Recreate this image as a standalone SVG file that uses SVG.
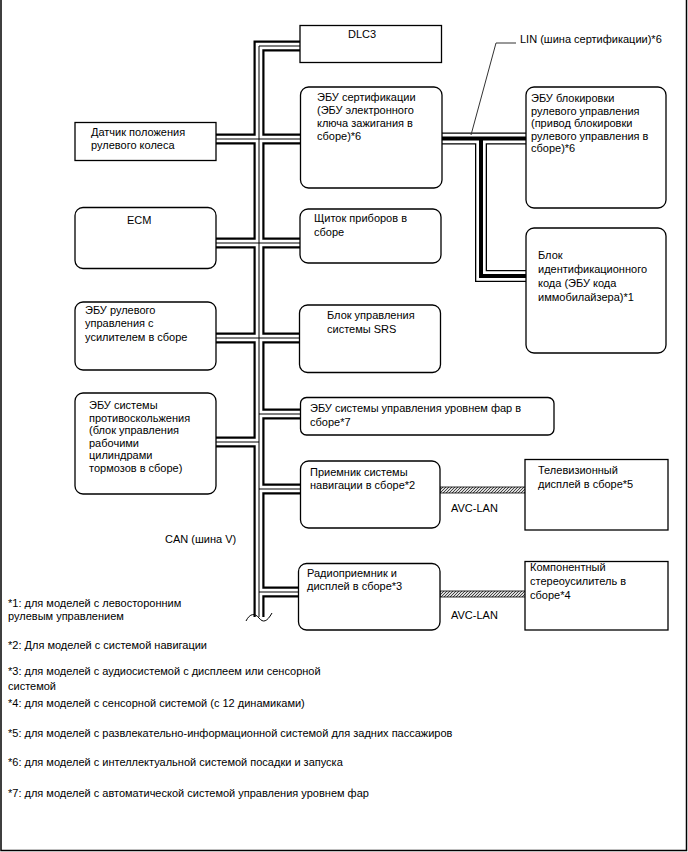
<svg xmlns="http://www.w3.org/2000/svg" width="688" height="852" viewBox="0 0 688 852">
<defs>
<style>
text{font-family:"Liberation Sans",Arial,sans-serif;font-size:11px;fill:#000}
.box{fill:#fff;stroke:#000;stroke-width:1.3}
.bo{fill:none;stroke:#000;stroke-width:11;stroke-linejoin:miter}
.bw{fill:none;stroke:#fff;stroke-width:6.6;stroke-linejoin:miter}
.bc{fill:none;stroke:#000;stroke-width:1;stroke-linejoin:miter}
.lo{fill:none;stroke:#000;stroke-width:12;stroke-linejoin:miter}
.lw{fill:none;stroke:#fff;stroke-width:9.4;stroke-linejoin:miter}
.lc{fill:none;stroke:#000;stroke-width:4;stroke-linejoin:miter}
.avc{fill:url(#hatch);stroke:#000;stroke-width:0.8}
</style>
<pattern id="hatch" patternUnits="userSpaceOnUse" width="3" height="3">
<rect width="3" height="3" fill="#ddd"/>
<path d="M-1,4 L4,-1 M-1,1 L1,-1 M2,4 L4,2" stroke="#333" stroke-width="0.9"/>
</pattern>
</defs>
<rect width="688" height="852" fill="#fff"/>
<path d="M1,0 V850.5 H686.5 V0" fill="none" stroke="#000" stroke-width="1.5"/>

<g id="connectors">
<g id="can-bus">
<path class="bo" d="M300,46 H259 V617 M216,139 H300 M216,243 H300 M216,338 H300 M216,442 H259 M259,414 H300 M259,489 H300 M259,592 H300"/>
<path class="bw" d="M300,46 H259 V617 M216,139 H300 M216,243 H300 M216,338 H300 M216,442 H259 M259,414 H300 M259,489 H300 M259,592 H300"/>
<path class="bc" d="M300,46 H259 V617 M216,139 H300 M216,243 H300 M216,338 H300 M216,442 H259 M259,414 H300 M259,489 H300 M259,592 H300"/>
<path d="M252,620 L266,620 L266,623 L252,623 Z" fill="#fff"/>
<path d="M246,621 C250,613 255,613 259,618 S267,622 272,613" fill="none" stroke="#000" stroke-width="1"/>
</g>
<g id="lin-bus">
<path class="lo" d="M442,138.5 H526 M481,138.5 V276 H526"/>
<path class="lw" d="M442,138.5 H526 M481,138.5 V276 H526"/>
<path class="lc" d="M442,138.5 H526 M481,138.5 V276 H526"/>
<path d="M516,43 H496 L471,135" fill="none" stroke="#333" stroke-width="1"/>
</g>
<rect class="avc" x="440" y="487" width="86" height="6"/>
<rect class="avc" x="440" y="591" width="86" height="6"/>
</g>

<g id="dlc3"><rect class="box" x="300" y="25.5" width="141.5" height="37"/><text x="348" y="38">DLC3</text></g>
<g id="ecu-cert"><rect class="box" x="300.5" y="87" width="141.5" height="101" rx="8"/>
<text x="317" y="101">ЭБУ сертификации</text><text x="317" y="114">(ЭБУ электронного</text><text x="317" y="127">ключа зажигания в</text><text x="317" y="140">сборе)*6</text></g>
<g id="ecu-steer-lock"><rect class="box" x="526" y="87" width="140" height="121" rx="8"/>
<text x="531" y="102">ЭБУ блокировки</text><text x="531" y="114.5">рулевого управления</text><text x="531" y="127">(привод блокировки</text><text x="531" y="139.5">рулевого управления в</text><text x="531" y="152">сборе)*6</text></g>
<g id="immobilizer"><rect class="box" x="526" y="228" width="140" height="125" rx="8"/>
<text x="538" y="259">Блок</text><text x="538" y="273">идентификационного</text><text x="538" y="287">кода (ЭБУ кода</text><text x="538" y="300.5">иммобилайзера)*1</text></g>
<g id="steer-sensor"><rect class="box" x="75" y="122.5" width="141" height="38"/>
<text x="91" y="136">Датчик положения</text><text x="91" y="148.5">рулевого колеса</text></g>
<g id="ecm"><rect class="box" x="75" y="207.5" width="141" height="61" rx="8"/><text x="127" y="224">ECM</text></g>
<g id="meter"><rect class="box" x="300" y="209" width="141" height="54" rx="8"/>
<text x="314" y="222">Щиток приборов в</text><text x="314" y="236">сборе</text></g>
<g id="eps"><rect class="box" x="75" y="302" width="141" height="68" rx="8"/>
<text x="85" y="314">ЭБУ рулевого</text><text x="85" y="327">управления с</text><text x="85" y="340.5">усилителем в сборе</text></g>
<g id="srs"><rect class="box" x="299.5" y="305" width="141" height="67.5" rx="8"/>
<text x="327" y="319">Блок управления</text><text x="327" y="332.5">системы SRS</text></g>
<g id="skid"><rect class="box" x="75" y="393" width="141" height="101" rx="8"/>
<text x="89" y="409">ЭБУ системы</text><text x="89" y="421.5">противоскольжения</text><text x="89" y="434">(блок управления</text><text x="89" y="446.5">рабочими</text><text x="89" y="459">цилиндрами</text><text x="89" y="471.5">тормозов в сборе)</text></g>
<g id="headlamp"><rect class="box" x="300.5" y="397.5" width="253.5" height="37.5" rx="6"/>
<text x="310" y="412">ЭБУ системы управления уровнем фар в</text><text x="310" y="425.5">сборе*7</text></g>
<g id="nav"><rect class="box" x="300.5" y="461" width="139.5" height="67" rx="8"/>
<text x="310" y="475.5">Приемник системы</text><text x="310" y="489">навигации в сборе*2</text></g>
<g id="tv"><rect class="box" x="525" y="459.5" width="143" height="70.5"/>
<text x="538" y="474">Телевизионный</text><text x="538" y="487.5">дисплей в сборе*5</text></g>
<g id="radio"><rect class="box" x="298.5" y="563.5" width="141.5" height="66.5" rx="8"/>
<text x="307" y="577">Радиоприемник и</text><text x="307" y="589.5">дисплей в сборе*3</text></g>
<g id="amp"><rect class="box" x="525" y="561.5" width="143" height="68.5"/>
<text x="530" y="571">Компонентный</text><text x="530" y="585">стереоусилитель в</text><text x="530" y="599">сборе*4</text></g>

<g id="labels">
<text x="520" y="43">LIN (шина сертификации)*6</text>
<text x="451" y="512">AVC-LAN</text>
<text x="451" y="619">AVC-LAN</text>
<text x="165" y="543">CAN (шина V)</text>
</g>
<g id="notes">
<text x="8" y="607">*1: для моделей с левосторонним</text>
<text x="8" y="620">рулевым управлением</text>
<text x="8" y="649">*2: Для моделей с системой навигации</text>
<text x="8" y="675">*3: для моделей с аудиосистемой с дисплеем или сенсорной</text>
<text x="8" y="690">системой</text>
<text x="8" y="707">*4: для моделей с сенсорной системой (с 12 динамиками)</text>
<text x="8" y="737">*5: для моделей с развлекательно-информационной системой для задних пассажиров</text>
<text x="8" y="766">*6: для моделей с интеллектуальной системой посадки и запуска</text>
<text x="8" y="797">*7: для моделей с автоматической системой управления уровнем фар</text>
</g>
</svg>
